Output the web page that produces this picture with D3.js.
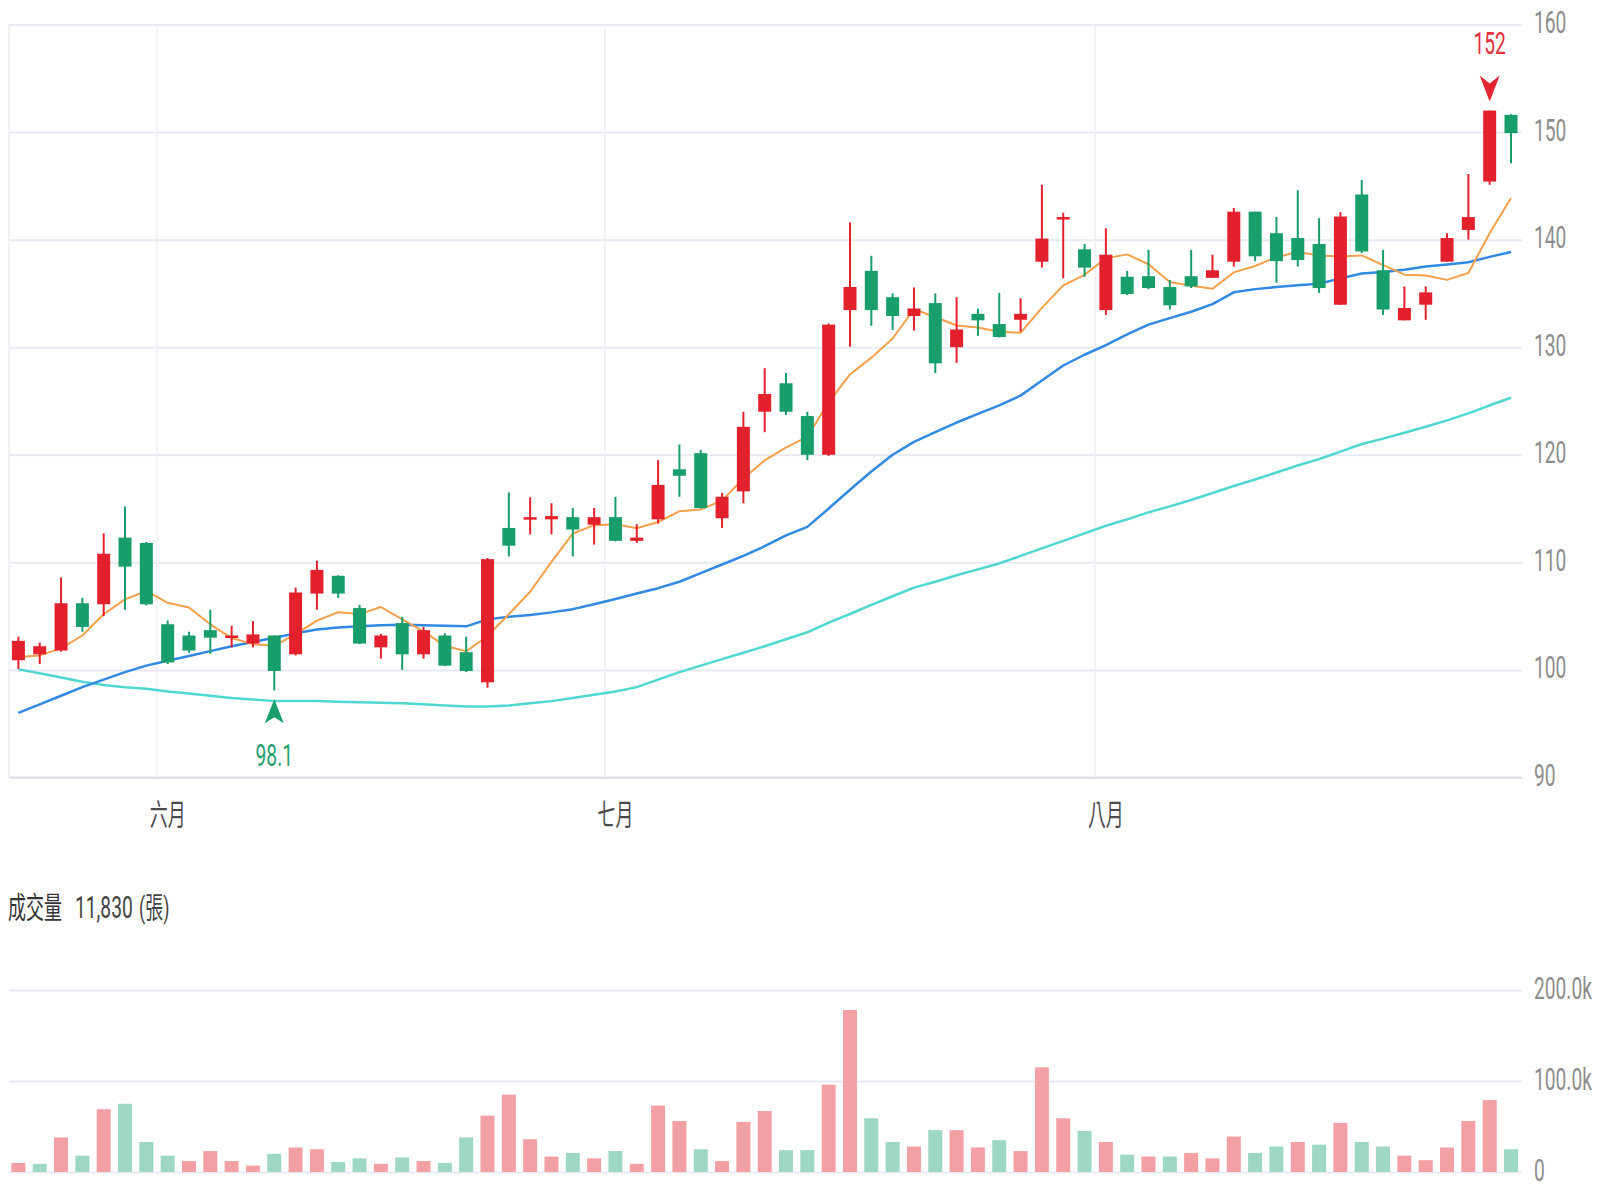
<!DOCTYPE html>
<html lang="zh-Hant">
<head>
<meta charset="utf-8">
<title>K線圖</title>
<script src="https://cdn.jsdelivr.net/npm/d3@7"></script>
<style>
  body { margin: 0; background: #fff; }
  text { font-family: Roboto, "Noto Sans CJK TC", sans-serif; }
</style>
</head>
<body>
<div id="stage"></div>
<script>
  var opens = [100.9,101.45,101.8,106.2,106.1,112.3,111.8,104.25,103.2,103.7,
    103.0,102.45,103.2,101.45,107.1,108.75,105.75,102.1,104.35,101.45,
    103.2,101.65,98.85,113.2,114.0,114.0,114.2,113.5,114.2,112.0,
    114.0,118.65,120.15,114.1,116.6,124.0,126.65,123.6,120.0,133.45,
    137.1,134.65,132.9,134.1,130.0,133.1,132.15,132.55,137.95,141.9,
    139.1,133.45,136.55,136.6,135.6,136.6,136.45,137.95,142.6,140.6,
    140.15,139.6,133.95,144.2,137.15,132.5,133.95,137.95,140.9,145.4,
    151.6];
  var highs = [103.1,102.55,108.6,106.7,112.7,115.2,111.9,104.6,103.55,105.6,
    104.1,104.55,103.2,107.65,110.15,108.8,106.05,103.35,104.95,104.0,
    103.4,103.1,110.4,116.5,116.05,115.5,115.05,115.05,116.1,113.55,
    119.5,120.95,120.45,116.45,124.0,128.05,127.6,124.0,132.2,141.6,
    138.5,135.0,135.55,135.0,134.65,133.6,135.05,134.55,145.1,142.5,
    139.6,141.05,137.1,139.05,136.25,139.05,138.6,142.95,142.6,142.1,
    144.6,142.0,142.55,145.55,139.05,135.65,135.65,140.6,146.1,152.0,
    151.65];
  var lows = [100.1,100.55,101.7,103.55,105.0,105.6,106.0,100.55,101.6,101.5,
    102.1,102.1,98.1,101.35,105.6,106.7,102.4,101.05,100.0,101.05,
    100.35,99.8,98.35,110.55,112.6,112.6,110.55,111.65,111.95,111.8,
    113.6,116.1,115.0,113.2,115.5,122.1,123.7,119.5,119.9,130.05,
    132.0,131.6,131.55,127.6,128.55,131.05,130.9,131.45,137.4,136.4,
    136.55,133.0,134.85,135.4,133.5,135.5,136.45,137.5,138.0,136.0,
    137.5,135.05,133.95,138.75,133.0,132.5,132.55,137.95,140.0,145.1,
    147.1];
  var closes = [102.7,102.2,106.2,104.0,110.8,109.6,106.1,100.7,101.8,103.0,
    103.2,103.3,99.9,107.2,109.3,107.1,102.45,103.2,101.45,103.7,
    100.4,99.9,110.3,111.55,114.2,114.3,113.05,114.2,112.0,112.3,
    117.2,118.05,115.05,116.1,122.6,125.65,124.0,120.0,132.1,135.6,
    133.45,132.9,133.6,128.5,131.65,132.5,130.95,133.1,140.1,142.1,
    137.4,138.6,134.95,135.5,133.9,135.65,137.15,142.6,138.45,138.0,
    138.1,135.5,142.15,138.9,133.5,133.65,135.1,140.15,142.1,152.0,
    149.9];
  var volumes = [10000,9000,38000,18000,69000,75000,33000,18000,12000,23000,
    12000,7000,20000,27000,25000,11000,15000,9000,16000,12000,
    10000,38000,62000,85000,36000,17000,21000,15000,23000,9000,
    73000,56000,25000,12000,55000,67000,24000,24000,96000,178000,
    59000,33000,28000,46000,46000,27000,35000,23000,115000,59000,
    45000,33000,19000,17000,17000,21000,15000,39000,21000,28000,
    33000,30000,54000,33000,28000,18000,13000,27000,56000,79000,
    25000];
  var ma5 = [101.2,101.35,102.0,103.2,105.18,106.56,107.34,106.24,105.8,104.24,
    102.96,102.4,102.24,103.32,104.58,105.36,105.19,105.85,104.7,103.58,
    102.24,101.73,103.15,105.17,107.27,110.05,112.68,113.46,113.55,113.17,
    113.75,114.75,114.92,115.74,117.8,119.49,120.68,121.67,124.87,127.47,
    129.03,130.81,133.53,132.81,132.02,131.83,131.44,131.34,133.66,135.75,
    136.73,138.26,138.63,137.71,136.07,135.72,135.43,136.96,137.55,138.37,
    138.86,138.53,138.44,138.53,137.63,136.74,136.66,136.26,136.9,140.6,
    143.88];
  var ma20 = [96.0,96.8,97.6,98.4,99.1,99.8,100.4,100.85,101.3,101.75,
    102.2,102.6,103.0,103.4,103.75,103.95,104.05,104.15,104.2,104.15,
    104.1,104.05,104.7,104.95,105.1,105.35,105.65,106.1,106.6,107.1,
    107.6,108.2,109.0,109.8,110.6,111.5,112.5,113.3,115.0,116.75,
    118.45,120.0,121.2,122.1,123.0,123.8,124.6,125.5,126.9,128.3,
    129.3,130.2,131.2,132.1,132.7,133.3,134.0,135.1,135.4,135.6,
    135.75,135.9,136.4,136.85,137.0,137.2,137.5,137.7,137.9,138.4,
    138.85];
  var ma60 = [100.05,99.7,99.3,98.9,98.6,98.4,98.25,98.0,97.8,97.6,
    97.4,97.25,97.1,97.1,97.1,97.05,97.0,96.95,96.9,96.8,
    96.7,96.6,96.6,96.7,96.9,97.1,97.4,97.7,98.0,98.4,
    99.1,99.8,100.4,101.0,101.6,102.2,102.85,103.5,104.4,105.2,
    106.05,106.85,107.65,108.2,108.8,109.35,109.9,110.6,111.3,112.0,
    112.7,113.4,114.0,114.65,115.2,115.8,116.45,117.1,117.7,118.35,
    119.0,119.6,120.3,121.0,121.5,122.05,122.6,123.2,123.85,124.6,
    125.3];
  var monthStarts = [7, 28, 51];
  var monthLabels = ["六月", "七月", "八月"];
  var priceTicks = [90, 100, 110, 120, 130, 140, 150, 160];
  var volTicks = [0, 100000, 200000];

  var n = closes.length;
  var left = 9, right = 1522;
  var upColor = "#e2212d", downColor = "#179e6a";
  var volUpColor = "#f3a0a5", volDownColor = "#9dd8c3";
  var gridColor = "#e7eaf3";

  var svg = d3.select("#stage").append("svg:svg").attr("width", 1600).attr("height", 1200);

  var x = d3.scalePoint().domain(d3.range(n)).range([18.4, 1511]);
  var step = x.step();
  var y = d3.scaleLinear().domain([90, 160]).range([777.5, 24.5]);
  var yv = d3.scaleLinear().domain([0, 200000]).range([1172, 990]);

  // condensed text, the picture is stretched tall
  function label(g, tx, ty, str, size, color, anchor) {
    return g.append("text")
      .attr("transform", "translate(" + tx + "," + ty + ") scale(0.6,1)")
      .attr("text-anchor", anchor || "start")
      .style("font-size", size + "px")
      .style("fill", color)
      .text(str);
  }

  // price grid + right axis
  var yAxis = svg.append("g").attr("transform", "translate(" + right + ",0)")
    .call(d3.axisRight(y).tickValues(priceTicks).tickSize(-(right - left)).tickFormat(d3.format("d")));
  yAxis.select(".domain").remove();
  yAxis.selectAll("line").attr("stroke", gridColor).attr("stroke-width", 2);
  yAxis.selectAll("text").attr("x", null).attr("dy", null)
    .attr("transform", "translate(12,8) scale(0.6,1)")
    .style("font-size", "32px").style("fill", "#8d8d8d").attr("font-family", null);

  svg.append("line").attr("x1", left).attr("x2", left).attr("y1", y(160)).attr("y2", y(90))
    .attr("stroke", "#eceef2").attr("stroke-width", 1.5);
  svg.append("line").attr("x1", left).attr("x2", right).attr("y1", y(90)).attr("y2", y(90))
    .attr("stroke", "#dcdfe7").attr("stroke-width", 2);

  svg.append("g").selectAll("line").data(monthStarts).enter().append("line")
    .attr("x1", function (d) { return x(d) - step / 2; })
    .attr("x2", function (d) { return x(d) - step / 2; })
    .attr("y1", y(160)).attr("y2", y(90))
    .attr("stroke", "#eef0f4").attr("stroke-width", 1.5);

  var xl = svg.append("g");
  monthStarts.forEach(function (d, i) {
    label(xl, x(d), 824.5, monthLabels[i], 30, "#4a4a4a", "middle");
  });

  // moving averages
  function maLine(values, color, width) {
    svg.append("path").datum(values)
      .attr("fill", "none").attr("stroke", color).attr("stroke-width", width)
      .attr("stroke-linejoin", "round")
      .attr("d", d3.line().x(function (d, i) { return x(i); }).y(function (d) { return y(d); }));
  }
  maLine(ma60, "#4fd8d2", 2.5);
  maLine(ma20, "#3189e2", 2.5);
  maLine(ma5, "#f4a04c", 2);

  // candles
  var candles = svg.append("g").selectAll("g").data(d3.range(n)).enter().append("g");
  candles.append("line")
    .attr("x1", function (i) { return x(i); }).attr("x2", function (i) { return x(i); })
    .attr("y1", function (i) { return y(highs[i]); }).attr("y2", function (i) { return y(lows[i]); })
    .attr("stroke", function (i) { return closes[i] >= opens[i] ? upColor : downColor; })
    .attr("stroke-width", 2);
  candles.append("rect")
    .attr("x", function (i) { return x(i) - 6.5; }).attr("width", 13)
    .attr("y", function (i) { return y(Math.max(opens[i], closes[i])); })
    .attr("height", function (i) { return Math.max(2.5, Math.abs(y(opens[i]) - y(closes[i]))); })
    .attr("fill", function (i) { return closes[i] >= opens[i] ? upColor : downColor; });

  // high / low markers
  var hi = d3.maxIndex(highs), lo = d3.minIndex(lows);
  var tip = y(highs[hi]) - 9;
  svg.append("path")
    .attr("d", "M" + x(hi) + "," + tip + "L" + (x(hi) - 10) + "," + (tip - 26) +
      "L" + x(hi) + "," + (tip - 18) + "L" + (x(hi) + 10) + "," + (tip - 26) + "Z")
    .attr("fill", "#e3252f");
  label(svg, x(hi), y(highs[hi]) - 57, d3.format("d")(highs[hi]), 32, "#e3303a", "middle");

  var tipLo = y(lows[lo]) + 9;
  svg.append("path")
    .attr("d", "M" + x(lo) + "," + tipLo + "L" + (x(lo) - 9.5) + "," + (tipLo + 24) +
      "L" + x(lo) + "," + (tipLo + 18) + "L" + (x(lo) + 9.5) + "," + (tipLo + 24) + "Z")
    .attr("fill", "#1a9e6c");
  label(svg, x(lo), y(lows[lo]) + 75.5, lows[lo].toFixed(1), 32, "#1f9f70", "middle");

  // volume
  label(svg, 8, 918, "成交量", 30, "#333", "start");
  label(svg, 75, 918, "11,830", 32, "#444", "start");
  label(svg, 139, 918, "(張)", 30, "#444", "start");

  var vAxis = svg.append("g").attr("transform", "translate(" + right + ",0)")
    .call(d3.axisRight(yv).tickValues(volTicks).tickSize(-(right - left))
      .tickFormat(function (d) { return d === 0 ? "0" : (d / 1000).toFixed(1) + "k"; }));
  vAxis.select(".domain").remove();
  vAxis.selectAll("line").attr("stroke", gridColor).attr("stroke-width", 2);
  vAxis.selectAll("text").attr("x", null).attr("dy", null)
    .attr("transform", "translate(12,8) scale(0.6,1)")
    .style("font-size", "32px").style("fill", "#8d8d8d").attr("font-family", null);

  svg.append("g").selectAll("rect").data(volumes).enter().append("rect")
    .attr("x", function (d, i) { return x(i) - 7; }).attr("width", 14)
    .attr("y", function (d) { return yv(d); })
    .attr("height", function (d) { return yv(0) - yv(d); })
    .attr("fill", function (d, i) {
      var up = i === 0 ? closes[i] >= opens[i] : closes[i] >= closes[i - 1];
      return up ? volUpColor : volDownColor;
    });
</script>
</body>
</html>
